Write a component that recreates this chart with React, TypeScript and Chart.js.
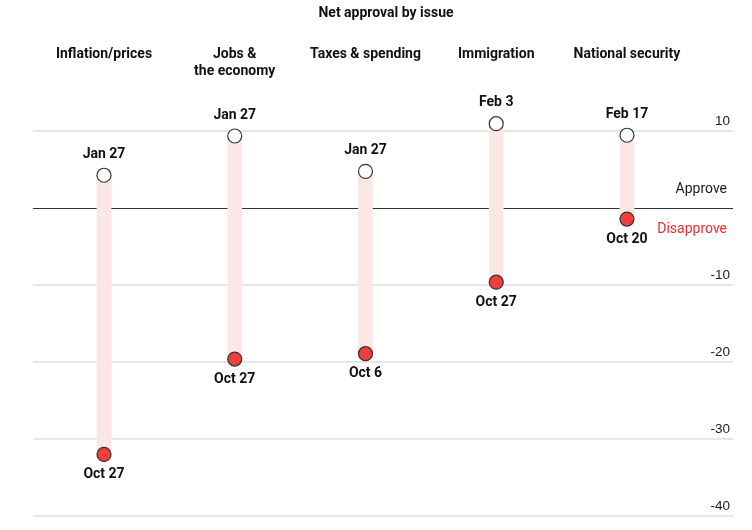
import React, { useEffect, useRef } from 'react';
import { Chart, registerables } from 'chart.js';

Chart.register(...registerables);

const chartTitle = 'Net approval by issue';
const categories: string[][] = [
  ['Inflation/prices'],
  ['Jobs &', 'the economy'],
  ['Taxes & spending'],
  ['Immigration'],
  ['National security'],
];
const firstValues = [4.3, 9.4, 4.8, 11.0, 9.5];
const lastValues = [-32.0, -19.6, -18.9, -9.6, -1.4];
const firstLabels = ['Jan 27', 'Jan 27', 'Jan 27', 'Feb 3', 'Feb 17'];
const lastLabels = ['Oct 27', 'Oct 27', 'Oct 6', 'Oct 27', 'Oct 20'];
const yTicks = [10, 0, -10, -20, -30, -40];
const yTickLabels = ['10', '', '-10', '-20', '-30', '-40'];
const approveLabel = 'Approve';
const disapproveLabel = 'Disapprove';

const BOLD = 'bold 14px Roboto, "Noto Sans", sans-serif';
const TEXT = '#111111';
const RED = '#ef3e3e';

const textPlugin = {
  id: 'textPlugin',
  afterDraw(chart: any) {
    const ctx = chart.ctx as CanvasRenderingContext2D;
    const xs = chart.scales.x;
    const ys = chart.scales.y;
    const area = chart.chartArea;
    ctx.save();
    ctx.fillStyle = TEXT;
    ctx.textAlign = 'center';
    ctx.textBaseline = 'middle';
    ctx.font = BOLD;
    ctx.fillText(chartTitle, 386, 13);

    categories.forEach((lines, i) => {
      const x = xs.getPixelForValue(i);
      lines.forEach((l, j) => ctx.fillText(l, x, 54 + j * 17));
    });

    const topMeta = chart.getDatasetMeta(1);
    topMeta.data.forEach((el: any, i: number) => {
      ctx.fillText(firstLabels[i], el.x, el.y - 21);
    });
    const botMeta = chart.getDatasetMeta(2);
    botMeta.data.forEach((el: any, i: number) => {
      ctx.fillText(lastLabels[i], el.x, el.y + 20);
    });

    ctx.textAlign = 'right';
    ctx.fillStyle = '#1a1a1a';
    ctx.font = '13.5px "Liberation Sans", Arial, sans-serif';
    yTicks.forEach((v, i) => {
      if (!yTickLabels[i]) return;
      ctx.fillText(yTickLabels[i], area.right - 3, ys.getPixelForValue(v) - 10);
    });

    ctx.font = '14px Roboto, "Noto Sans", sans-serif';
    const zero = ys.getPixelForValue(0);
    ctx.fillText(approveLabel, area.right - 6, zero - 19);
    ctx.fillStyle = '#e8312f';
    ctx.fillText(disapproveLabel, area.right - 6, zero + 21);
    ctx.restore();
  },
};

export default function App() {
  const ref = useRef<HTMLCanvasElement | null>(null);
  useEffect(() => {
    if (!ref.current) return;
    const chart = new Chart(ref.current, {
      type: 'bar',
      data: {
        datasets: [
          {
            type: 'bar',
            data: categories.map((_, i) => ({ x: i, y: [lastValues[i], firstValues[i]] })) as any,
            backgroundColor: '#fde6e6',
            borderWidth: 0,
            barThickness: 14,
            order: 3,
          } as any,
          {
            type: 'scatter',
            data: firstValues.map((v, i) => ({ x: i, y: v })),
            pointRadius: 7,
            pointHoverRadius: 7,
            pointBackgroundColor: '#ffffff',
            pointBorderColor: '#333333',
            pointBorderWidth: 1.2,
            clip: false,
            order: 1,
          } as any,
          {
            type: 'scatter',
            data: lastValues.map((v, i) => ({ x: i, y: v })),
            pointRadius: 7,
            pointHoverRadius: 7,
            pointBackgroundColor: RED,
            pointBorderColor: '#333333',
            pointBorderWidth: 1.2,
            clip: false,
            order: 1,
          } as any,
        ],
      },
      options: {
        animation: false,
        responsive: true,
        maintainAspectRatio: false,
        layout: { padding: { top: 116, bottom: 14, left: 33, right: 19 } },
        plugins: { legend: { display: false }, tooltip: { enabled: false }, title: { display: false } },
        scales: {
          x: { type: 'linear', min: -0.543, max: 4.811, display: false, offset: false } as any,
          y: {
            type: 'linear',
            min: -40,
            max: 12,
            position: 'right',
            ticks: { display: false },
            border: { display: false },
            grid: {
              drawTicks: false,
              color: (c: any) => (c.tick && c.tick.value === 0 ? '#333333' : '#e6e6e6'),
              lineWidth: (c: any) => (c.tick && c.tick.value === 0 ? 1 : 2),
            },
            afterBuildTicks: (axis: any) => {
              axis.ticks = yTicks.map((v) => ({ value: v }));
            },
          } as any,
        },
      },
      plugins: [textPlugin],
    });
    return () => chart.destroy();
  }, []);
  return (
    <div style={{ position: 'fixed', left: 0, top: 0, width: 752, height: 530, background: '#fff' }}>
      <canvas ref={ref} />
    </div>
  );
}
